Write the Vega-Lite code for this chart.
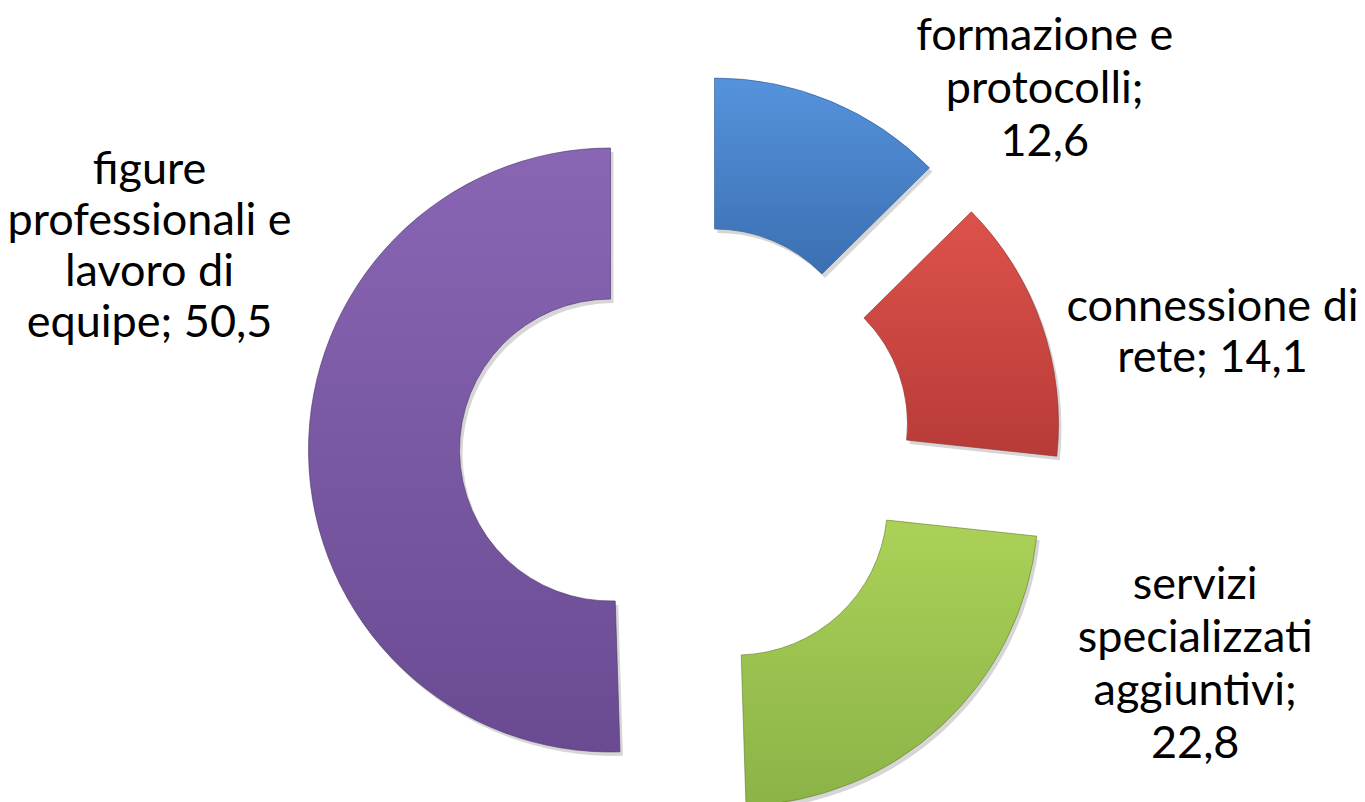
{
  "$schema": "https://vega.github.io/schema/vega-lite/v6.json",
  "width": 1365,
  "height": 802,
  "autosize": "none",
  "padding": 0,
  "background": "white",
  "config": {"view": {"stroke": null}},
  "data": {
    "values": [
      {"category": "formazione e protocolli", "value": 12.6, "order": 1, "label": "formazione e|protocolli;|12,6"},
      {"category": "connessione di rete", "value": 14.1, "order": 2, "label": "connessione di|rete; 14,1"},
      {"category": "servizi specializzati aggiuntivi", "value": 22.8, "order": 3, "label": "servizi|specializzati|aggiuntivi;|22,8"},
      {"category": "figure professionali e lavoro di equipe", "value": 50.5, "order": 4, "label": "figure|professionali e|lavoro di|equipe; 50,5"}
    ]
  },
  "transform": [
    {"stack": "value", "groupby": [], "sort": [{"field": "order", "order": "ascending"}], "as": ["v0", "v1"]},
    {"calculate": "(datum.v0 + datum.v1) / 2", "as": "mid"}
  ],
  "layer": [
    {
      "transform": [{"filter": "datum.order == 1"}],
      "layer": [
        {"mark": {"type": "arc", "innerRadius": 151, "outerRadius": 302, "fill": "#000000", "fillOpacity": 0.16, "xOffset": 35, "yOffset": -17},
         "encoding": {"theta": {"field": "v0", "type": "quantitative", "scale": {"domain": [0, 100], "range": [0, 6.283185]}}, "theta2": {"field": "v1"}}},
        {"mark": {"type": "arc", "innerRadius": 151, "outerRadius": 302, "xOffset": 32, "yOffset": -21, "stroke": "#2f5a8f", "strokeWidth": 1, "strokeOpacity": 0.6,
          "fill": {"gradient": "linear", "x1": 0, "y1": 0, "x2": 0, "y2": 1, "stops": [{"offset": 0, "color": "#5593dc"}, {"offset": 1, "color": "#3b6fb2"}]}},
         "encoding": {"theta": {"field": "v0", "type": "quantitative"}, "theta2": {"field": "v1"}}},
        {"mark": {"type": "text", "radius": 470, "xOffset": 181, "yOffset": 69, "align": "center", "baseline": "middle", "lineBreak": "|", "lineHeight": 53, "font": "Lato", "fontSize": 45, "fill": "#000000"},
         "encoding": {"theta": {"field": "mid", "type": "quantitative"}, "text": {"field": "label"}}}
      ]
    },
    {
      "transform": [{"filter": "datum.order == 2"}],
      "layer": [
        {"mark": {"type": "arc", "innerRadius": 151, "outerRadius": 302, "fill": "#000000", "fillOpacity": 0.16, "xOffset": 77, "yOffset": 27},
         "encoding": {"theta": {"field": "v0", "type": "quantitative"}, "theta2": {"field": "v1"}}},
        {"mark": {"type": "arc", "innerRadius": 151, "outerRadius": 302, "xOffset": 74, "yOffset": 23, "stroke": "#8a2a27", "strokeWidth": 1, "strokeOpacity": 0.6,
          "fill": {"gradient": "linear", "x1": 0, "y1": 0, "x2": 0, "y2": 1, "stops": [{"offset": 0, "color": "#dd524b"}, {"offset": 1, "color": "#b83b37"}]}},
         "encoding": {"theta": {"field": "v0", "type": "quantitative"}, "theta2": {"field": "v1"}}},
        {"mark": {"type": "text", "radius": 536, "xOffset": 24, "yOffset": 83, "align": "center", "baseline": "middle", "lineBreak": "|", "lineHeight": 51, "font": "Lato", "fontSize": 45, "fill": "#000000"},
         "encoding": {"theta": {"field": "mid", "type": "quantitative"}, "text": {"field": "label"}}}
      ]
    },
    {
      "transform": [{"filter": "datum.order == 3"}],
      "layer": [
        {"mark": {"type": "arc", "innerRadius": 151, "outerRadius": 302, "fill": "#000000", "fillOpacity": 0.16, "xOffset": 57, "yOffset": 107},
         "encoding": {"theta": {"field": "v0", "type": "quantitative"}, "theta2": {"field": "v1"}}},
        {"mark": {"type": "arc", "innerRadius": 151, "outerRadius": 302, "xOffset": 54, "yOffset": 103, "stroke": "#5f7d2a", "strokeWidth": 1, "strokeOpacity": 0.6,
          "fill": {"gradient": "linear", "x1": 0, "y1": 0, "x2": 0, "y2": 1, "stops": [{"offset": 0, "color": "#abd158"}, {"offset": 1, "color": "#8bb347"}]}},
         "encoding": {"theta": {"field": "v0", "type": "quantitative"}, "theta2": {"field": "v1"}}},
        {"mark": {"type": "text", "radius": 504, "xOffset": 170, "yOffset": -186, "align": "center", "baseline": "middle", "lineBreak": "|", "lineHeight": 53, "font": "Lato", "fontSize": 45, "fill": "#000000"},
         "encoding": {"theta": {"field": "mid", "type": "quantitative"}, "text": {"field": "label"}}}
      ]
    },
    {
      "transform": [{"filter": "datum.order == 4"}],
      "layer": [
        {"mark": {"type": "arc", "innerRadius": 151, "outerRadius": 302, "fill": "#000000", "fillOpacity": 0.16, "xOffset": -69, "yOffset": 53},
         "encoding": {"theta": {"field": "v0", "type": "quantitative"}, "theta2": {"field": "v1"}}},
        {"mark": {"type": "arc", "innerRadius": 151, "outerRadius": 302, "xOffset": -72, "yOffset": 49, "stroke": "#4a3468", "strokeWidth": 1, "strokeOpacity": 0.6,
          "fill": {"gradient": "linear", "x1": 0, "y1": 0, "x2": 0, "y2": 1, "stops": [{"offset": 0, "color": "#8966b4"}, {"offset": 1, "color": "#6a4b92"}]}},
         "encoding": {"theta": {"field": "v0", "type": "quantitative"}, "theta2": {"field": "v1"}}},
        {"mark": {"type": "text", "radius": 533, "xOffset": 0, "yOffset": -239, "align": "center", "baseline": "middle", "lineBreak": "|", "lineHeight": 51, "font": "Lato", "fontSize": 45, "fill": "#000000"},
         "encoding": {"theta": {"field": "mid", "type": "quantitative"}, "text": {"field": "label"}}}
      ]
    }
  ]
}
